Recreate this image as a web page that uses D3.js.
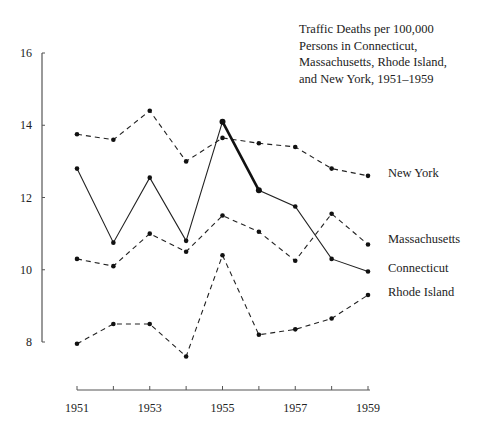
<!DOCTYPE html>
<html><head><meta charset="utf-8">
<script src="https://cdn.jsdelivr.net/npm/d3@7"></script>
<style>body{margin:0;background:#fff}text{font-family:"Liberation Serif",serif;fill:#222}</style>
</head><body><svg id="chart" width="502" height="439"></svg>
<script>
const years = [1951, 1952, 1953, 1954, 1955, 1956, 1957, 1958, 1959];
const newYork = [13.75, 13.6, 14.4, 13.0, 13.65, 13.5, 13.4, 12.8, 12.6];
const connecticut = [12.8, 10.75, 12.55, 10.8, 14.1, 12.2, 11.75, 10.3, 9.95];
const massachusetts = [10.3, 10.1, 11.0, 10.5, 11.5, 11.05, 10.25, 11.55, 10.7];
const rhodeIsland = [7.95, 8.5, 8.5, 7.6, 10.4, 8.2, 8.35, 8.65, 9.3];
const yTicks = [8, 10, 12, 14, 16];
const xTicks = [1951, 1953, 1955, 1957, 1959];

const svg = d3.select("#chart");
const x = d3.scaleLinear().domain([1951, 1959]).range([77, 368]);
const y = d3.scaleLinear().domain([8, 16]).range([342, 53]);

// y axis
svg.append("line").attr("x1", 42).attr("x2", 42).attr("y1", y(16)).attr("y2", y(8))
    .style("stroke", "#555").style("stroke-width", 1.2);
svg.selectAll(".ytick").data(yTicks).join("line")
    .attr("x1", 42).attr("x2", 45).attr("y1", d => y(d)).attr("y2", d => y(d))
    .style("stroke", "#555");
svg.selectAll(".ylab").data(yTicks).join("text")
    .attr("x", 32).attr("y", d => y(d) + 4).attr("text-anchor", "end")
    .style("font-size", "12px").text(d => d);

// x axis
svg.append("line").attr("x1", x(1951)).attr("x2", x(1959) + 2).attr("y1", 390).attr("y2", 390)
    .style("stroke", "#555").style("stroke-width", 1.2);
svg.selectAll(".xtick").data(years).join("line")
    .attr("x1", d => x(d)).attr("x2", d => x(d)).attr("y1", 390).attr("y2", 386)
    .style("stroke", "#555");
svg.selectAll(".xlab").data(xTicks).join("text")
    .attr("x", d => x(d)).attr("y", 412).attr("text-anchor", "middle")
    .style("font-size", "12px").text(d => d);

const line = d3.line().x((d, i) => x(years[i])).y(d => y(d));

function series(vals, dash, label, ly) {
    svg.append("path").attr("d", line(vals))
        .style("fill", "none").style("stroke", "#222").style("stroke-width", 1.1)
        .style("stroke-dasharray", dash);
    svg.append("g").selectAll("circle").data(vals).join("circle")
        .attr("cx", (d, i) => x(years[i])).attr("cy", d => y(d)).attr("r", 2.3)
        .style("fill", "#111");
    svg.append("text").attr("x", 388).attr("y", ly).style("font-size", "12.5px").text(label);
}

series(newYork, "5 4", "New York", 177);
series(massachusetts, "5 4", "Massachusetts", 243);
series(connecticut, null, "Connecticut", 272);
series(rhodeIsland, "5 4", "Rhode Island", 296);

// heavier 1955-56 segment for Connecticut
svg.append("line").attr("x1", x(1955)).attr("y1", y(connecticut[4]))
    .attr("x2", x(1956)).attr("y2", y(connecticut[5]))
    .style("stroke", "#111").style("stroke-width", 2.6);
svg.append("circle").attr("cx", x(1955)).attr("cy", y(connecticut[4])).attr("r", 3).style("fill", "#111");
svg.append("circle").attr("cx", x(1956)).attr("cy", y(connecticut[5])).attr("r", 3).style("fill", "#111");

const title = ["Traffic Deaths per 100,000", "Persons in Connecticut,",
    "Massachusetts, Rhode Island,", "and New York, 1951\u20131959"];
svg.append("text").attr("x", 299).attr("y", 33).style("font-size", "12.5px")
    .selectAll("tspan").data(title).join("tspan")
    .attr("x", 299).attr("dy", (d, i) => i ? 16.5 : 0).text(d => d);
</script></body></html>
